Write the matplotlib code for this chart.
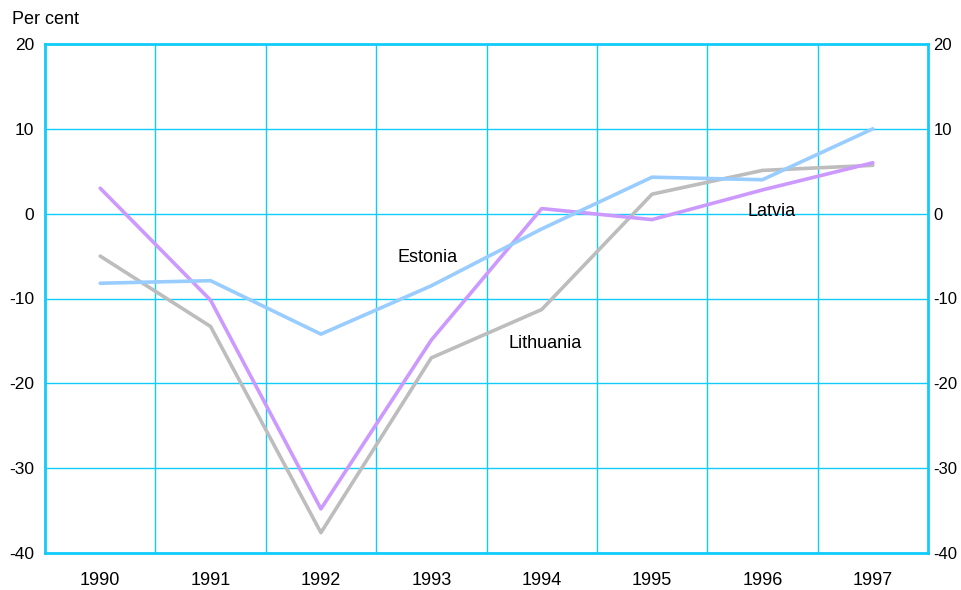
import matplotlib

matplotlib.use("Agg")
import matplotlib.pyplot as plt

years = [1990, 1991, 1992, 1993, 1994, 1995, 1996, 1997]
estonia = [-8.2, -7.9, -14.2, -8.5, -1.8, 4.3, 4.0, 10.0]
latvia = [3.0, -10.2, -34.8, -14.9, 0.6, -0.7, 2.8, 6.0]
lithuania = [-5.0, -13.3, -37.6, -17.0, -11.3, 2.3, 5.1, 5.7]
y_ticks = [-40, -30, -20, -10, 0, 10, 20]

plt.rcParams["font.family"] = ["Liberation Sans", "DejaVu Sans"]
grid_col = "#11CCFA"

fig = plt.figure(figsize=(9.62, 5.90), dpi=100)
ax = fig.add_axes([45 / 962, 37 / 590, 883 / 962, 509 / 590])

ax.plot(years, lithuania, color="#BDBDBD", lw=2.6, solid_capstyle="round", zorder=3)
ax.plot(years, latvia, color="#CC99FF", lw=2.6, solid_capstyle="round", zorder=4)
ax.plot(years, estonia, color="#99CCFF", lw=2.6, solid_capstyle="round", zorder=5)

ax.set_xlim(1989.5, 1997.5)
ax.set_ylim(-40, 20)
ax.set_xticks(years)
ax.set_xticklabels([str(y) for y in years], fontsize=13)
ax.set_xticks([y + 0.5 for y in years[:-1]], minor=True)
ax.set_yticks(y_ticks)
ax.set_yticklabels([str(v) for v in y_ticks], fontsize=12.5)
ax.tick_params(axis="both", which="both", length=0)
ax.tick_params(axis="x", pad=14)
ax.tick_params(axis="y", pad=8)
ax.grid(True, axis="y", which="major", color=grid_col, lw=1)
ax.grid(True, axis="x", which="minor", color=grid_col, lw=1)
for s in ax.spines.values():
    s.set_color(grid_col)
    s.set_linewidth(2)

# right-hand copy of the value scale
ax2 = ax.twinx()
ax2.set_ylim(ax.get_ylim())
ax2.set_yticks(y_ticks)
ax2.set_yticklabels([str(v) for v in y_ticks], fontsize=12)
ax2.tick_params(axis="y", length=0, pad=4)
for s in ax2.spines.values():
    s.set_visible(False)

ax.text(1992.97, -5.2, "Estonia", fontsize=13, ha="center", va="center")
ax.text(1994.03, -15.3, "Lithuania", fontsize=13, ha="center", va="center")
ax.text(1996.08, 0.2, "Latvia", fontsize=13, ha="center", va="center")
fig.text(12 / 962, 1 - 20 / 590, "Per cent", fontsize=13, ha="left", va="center")

fig.savefig("out.png", dpi=100)
